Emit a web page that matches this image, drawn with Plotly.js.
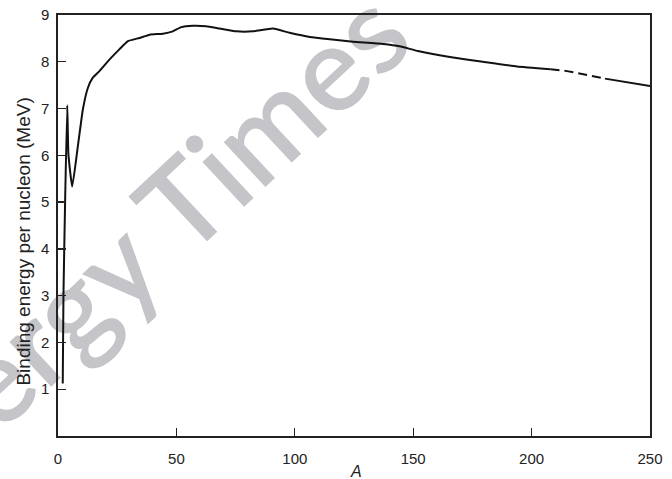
<!DOCTYPE html>
<html>
<head>
<meta charset="utf-8">
<script src="https://cdn.plot.ly/plotly-3.0.1.min.js"></script>
<style>html,body{margin:0;padding:0;background:#fff;}#chart{width:672px;height:479px;}</style>
</head>
<body>
<div id="chart"></div>
<script>
// Mass number A and binding energy per nucleon (MeV)
const massNumber = [2, 2.3, 3.0, 3.9, 4.4, 6.0, 8.4, 10.5, 12.6, 14.7, 17.5, 21.8, 26, 29.5, 34.4, 38.7, 44.3, 48.5, 52, 57, 62.6, 68.3, 75.3, 82.3, 90.8, 97.8, 106.3, 114.8, 124.6, 137.3, 144.3, 152, 165.5, 179.4, 193.8, 208];
const bindingEnergy = [1.12, 3.0, 5.0, 7.07, 6.02, 5.33, 6.2, 6.98, 7.44, 7.66, 7.80, 8.05, 8.27, 8.44, 8.51, 8.58, 8.60, 8.65, 8.74, 8.77, 8.76, 8.71, 8.65, 8.65, 8.71, 8.62, 8.53, 8.48, 8.43, 8.38, 8.33, 8.23, 8.10, 8.00, 7.90, 7.84];
// Extrapolated (dashed) part
const massNumberDashed = [208, 215, 231];
const bindingEnergyDashed = [7.84, 7.80, 7.64];
// Final solid part
const massNumberTail = [231, 250];
const bindingEnergyTail = [7.64, 7.48];

const xTicks = [0, 50, 100, 150, 200, 250];
const yTicks = [1, 2, 3, 4, 5, 6, 7, 8, 9];

const lineStyle = {color: '#111', width: 2};
const traces = [
  {x: massNumber, y: bindingEnergy, mode: 'lines', line: Object.assign({}, lineStyle, {shape: 'spline', smoothing: 0.4}), hoverinfo: 'skip'},
  {x: massNumberDashed, y: bindingEnergyDashed, mode: 'lines', line: Object.assign({}, lineStyle, {dash: '9px,5px'}), hoverinfo: 'skip'},
  {x: massNumberTail, y: bindingEnergyTail, mode: 'lines', line: lineStyle, hoverinfo: 'skip'}
];

const tickFont = {family: 'Liberation Sans, Arial, sans-serif', size: 15, color: '#222'};
const layout = {
  width: 672, height: 479,
  margin: {l: 58, r: 22, t: 15, b: 43},
  paper_bgcolor: '#fff',
  plot_bgcolor: 'rgba(0,0,0,0)',
  showlegend: false,
  xaxis: {
    range: [0, 250], tickvals: xTicks, ticktext: xTicks.map(String),
    ticks: 'inside', ticklen: 8, tickwidth: 1.3, tickcolor: '#222',
    showline: true, linecolor: '#222', linewidth: 1.6, mirror: true,
    showgrid: false, zeroline: false, tickfont: tickFont, ticklabelstandoff: 8
  },
  yaxis: {
    range: [0, 9], tickvals: yTicks, ticktext: yTicks.map(String),
    ticks: 'inside', ticklen: 8, tickwidth: 1.3, tickcolor: '#222',
    showline: true, linecolor: '#222', linewidth: 1.6, mirror: true,
    showgrid: false, zeroline: false, tickfont: tickFont, ticklabelstandoff: 4
  },
  shapes: [{
    type: 'rect', xref: 'paper', yref: 'paper',
    x0: 0.100, x1: 0.130, y0: 0.427, y1: 0.451,
    line: {width: 0}, fillcolor: 'rgba(0,0,0,0)', layer: 'below',
    label: {text: 'Energy Times', textangle: -43, textposition: 'middle center',
      font: {family: 'Lato, sans-serif', size: 120, color: '#c4c4c9', weight: 600}}
  }],
  annotations: [
    {text: 'Binding energy per nucleon (MeV)', xref: 'paper', yref: 'paper', x: -0.058, y: 0.461,
     xanchor: 'center', yanchor: 'middle', textangle: -90, showarrow: false,
     font: {family: 'Liberation Sans, Arial, sans-serif', size: 19, color: '#222'}},
    {text: 'A', xref: 'paper', yref: 'paper', x: 0.504, y: -0.084,
     xanchor: 'center', yanchor: 'middle', showarrow: false,
     font: {family: 'Liberation Sans, Arial, sans-serif', size: 16, color: '#222', style: 'italic'}}
  ]
};

Plotly.newPlot('chart', traces, layout, {staticPlot: true, displayModeBar: false});
</script>
</body>
</html>
